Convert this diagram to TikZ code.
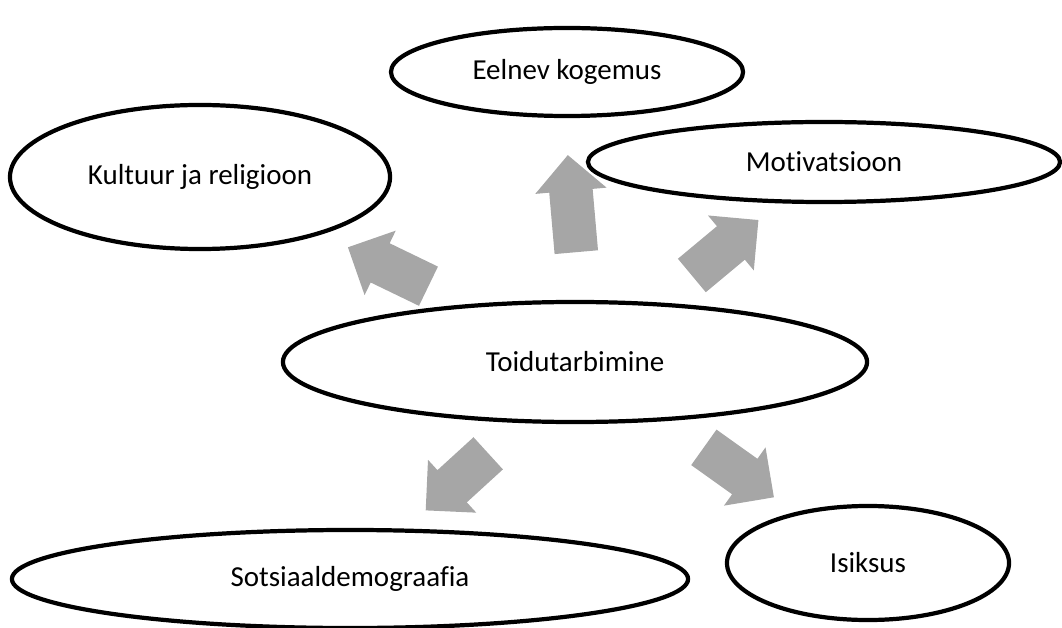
\documentclass[tikz,border=0pt]{standalone}
\usepackage{fontspec}
\setmainfont{Carlito}[Ligatures=NoCommon]
\usetikzlibrary{shapes.geometric,shapes.arrows}
\definecolor{nooltoon}{HTML}{A6A6A6}
\tikzset{
  teema/.style={ellipse, draw=black, line width=3pt, fill=white, inner sep=0pt,
    font=\fontsize{20.6}{24}\selectfont},
  nool/.style={single arrow, fill=nooltoon, draw=none, inner xsep=0pt,
    inner ysep=0.5375cm, single arrow head extend=0.35cm,
    single arrow head indent=0pt}
}
\begin{document}
\begin{tikzpicture}[x=0.025cm, y=-0.025cm]
  \useasboundingbox (0,0) rectangle (1062,628);
  % nooled
  \node[nool, minimum height=2.235cm, rotate=154.2] (n1) at (398,271.5) {};
  \node[nool, minimum height=2.435cm, rotate=95] (n2) at (573,214.5) {};
  \node[nool, minimum height=2.165cm, rotate=39.8] (n3) at (716.75,254.75) {};
  \node[nool, minimum height=2.115cm, rotate=222.4] (n4) at (465,474.5) {};
  \node[nool, minimum height=2.15cm, rotate=-35.5] (n5) at (730,466) {};
  % teemad
  \node[teema, minimum width=8.8cm, minimum height=2.2cm] (kogemus) at (567,72) {Eelnev kogemus};
  \node[teema, minimum width=9.5cm, minimum height=3.6cm] (kultuur) at (200,177) {Kultuur ja religioon};
  \node[teema, minimum width=11.8cm, minimum height=2.0cm] (motivatsioon) at (824,162) {Motivatsioon};
  \node[teema, minimum width=14.6cm, minimum height=3.0cm] (toit) at (575,362) {Toidutarbimine};
  \node[teema, minimum width=16.9cm, minimum height=2.45cm] (sotsiaal) at (350,579) {Sotsiaaldemograafia};
  \node[teema, minimum width=7.05cm, minimum height=2.85cm] (isiksus) at (868,563) {Isiksus};
\end{tikzpicture}
\end{document}
